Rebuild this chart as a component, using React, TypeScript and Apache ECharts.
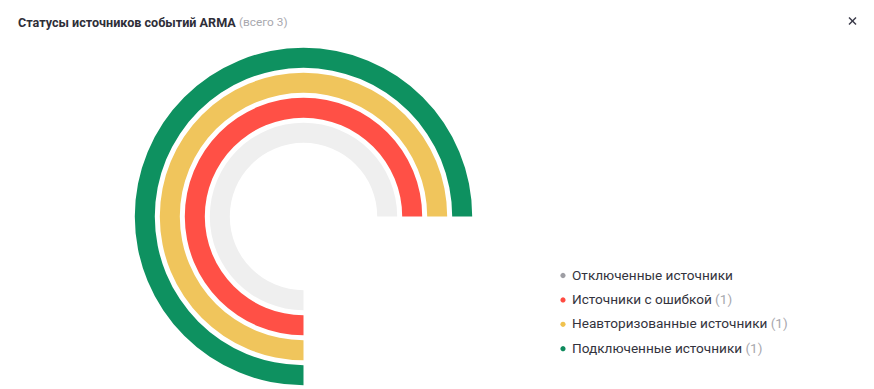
import React, { useEffect, useRef } from "react";
import * as echarts from "echarts";

const categories = [
  "Отключенные источники",
  "Источники с ошибкой",
  "Неавторизованные источники",
  "Подключенные источники",
];
const values = [0, 1, 1, 1];
const ringMax = 1;
const counts: (number | null)[] = [null, 1, 1, 1];
const ringColors = ["#efefef", "#ff5046", "#f0c55c", "#0e9160"];
const dotColors = ["#9e9ea4", "#ff4a40", "#f0c24e", "#0e8a5c"];
const titleText = "Статусы источников событий ARMA";
const totalText = "(всего 3)";

export default function App() {
  const ref = useRef<HTMLDivElement>(null);
  useEffect(() => {
    if (!ref.current) return;
    const chart = echarts.init(ref.current, undefined, { renderer: "svg" });
    const font = "Roboto, 'Liberation Sans', Arial, sans-serif";
    const legendEls: any[] = [];
    categories.forEach((c, i) => {
      const y = 274.5 + i * 24.4;
      legendEls.push({
        type: "circle",
        shape: { cx: 563, cy: y + 1, r: 2.6 },
        style: { fill: dotColors[i] },
      });
      const cnt = counts[i];
      legendEls.push({
        type: "text",
        x: 572,
        y,
        style: {
          text: cnt === null ? `{a|${c}}` : `{a|${c}} {b|(${cnt})}`,
          verticalAlign: "middle",
          align: "left",
          rich: {
            a: { fontSize: 13.6, fontFamily: font, fill: "#33333d" },
            b: { fontSize: 13.6, fontFamily: font, fill: "#a8a8ae" },
          },
        },
      });
    });
    chart.setOption({
      animation: false,
      backgroundColor: "#ffffff",
      polar: { center: [303.5, 216.5], radius: [71.2, 171.2] },
      angleAxis: {
        type: "value",
        min: 0,
        max: ringMax * 4 / 3,
        startAngle: 0,
        clockwise: false,
        show: false,
      },
      radiusAxis: {
        type: "category",
        data: categories,
        show: false,
      },
      series: [
        {
          type: "bar",
          coordinateSystem: "polar",
          name: "Статусы",
          stack: "ring",
          data: values.map((v, i) => ({ value: v, itemStyle: { color: ringColors[i] } })),
          barWidth: 20,
          silent: true,
        },
        {
          type: "bar",
          coordinateSystem: "polar",
          name: "Остаток",
          stack: "ring",
          data: values.map((v) => ringMax - v),
          barWidth: 20,
          silent: true,
          itemStyle: { color: "#efefef" },
        },
      ],
      graphic: [
        {
          type: "text",
          x: 18,
          y: 22,
          style: {
            text: `{a|${titleText}} {b|${totalText}}`,
            verticalAlign: "middle",
            rich: {
              a: { fontSize: 12.6, fontWeight: "bold", fontFamily: font, fill: "#2e2e38" },
              b: { fontSize: 11.8, fontFamily: font, fill: "#a8a8ae" },
            },
          },
        },
        {
          type: "line",
          shape: { x1: 849, y1: 17.5, x2: 856, y2: 24.5 },
          style: { stroke: "#3a3a48", lineWidth: 1.4 },
        },
        {
          type: "line",
          shape: { x1: 856, y1: 17.5, x2: 849, y2: 24.5 },
          style: { stroke: "#3a3a48", lineWidth: 1.4 },
        },
        ...legendEls,
      ],
    });
    return () => chart.dispose();
  }, []);
  return (
    <div
      ref={ref}
      style={{ position: "fixed", left: 0, top: 0, width: 874, height: 389 }}
    />
  );
}
